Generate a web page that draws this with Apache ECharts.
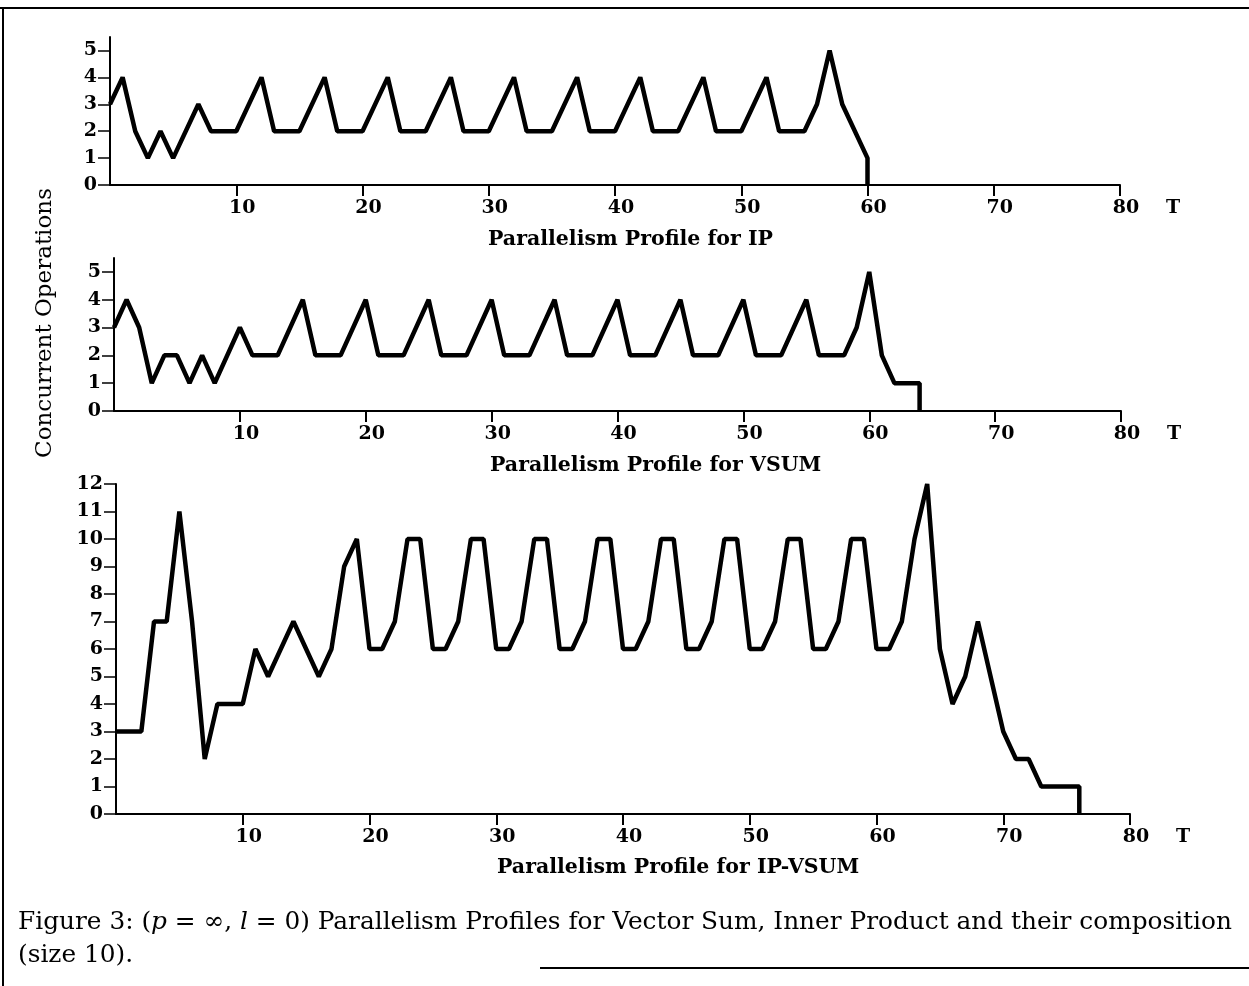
<!DOCTYPE html>
<html>
<head>
<meta charset="utf-8">
<script src="https://cdn.jsdelivr.net/npm/echarts@6/dist/echarts.min.js"></script>
<style>html,body{margin:0;padding:0;background:#fff;}#c{width:1249px;height:986px;}</style>
</head>
<body>
<div id="c"></div>
<script>
// ---- data ----
const ipT    = [0,1,2,3,4,5,7,8,10,12,13,15,17,18,20,22,23,25,27,28,30,32,33,35,37,38,40,42,43,45,47,48,50,52,53,55,56,57,58,60,60];
const ipV    = [3,4,2,1,2,1,3,2,2,4,2,2,4,2,2,4,2,2,4,2,2,4,2,2,4,2,2,4,2,2,4,2,2,4,2,2,3,5,3,1,0];
const vsumT  = [0,1,2,3,4,5,6,7,8,10,11,13,15,16,18,20,21,23,25,26,28,30,31,33,35,36,38,40,41,43,45,46,48,50,51,53,55,56,58,59,60,61,62,64,64];
const vsumV  = [3,4,3,1,2,2,1,2,1,3,2,2,4,2,2,4,2,2,4,2,2,4,2,2,4,2,2,4,2,2,4,2,2,4,2,2,4,2,2,3,5,2,1,1,0];
const bothT  = [0,2,3,4,5,6,7,8,10,11,12,14,16,17,18,19,20,21,22,23,24,25,26,27,28,29,30,31,32,33,34,35,36,37,38,39,40,41,42,43,44,45,46,47,48,49,50,51,52,53,54,55,56,57,58,59,60,61,62,63,64,65,66,67,68,69,70,71,72,73,76,76];
const bothV  = [3,3,7,7,11,7,2,4,4,6,5,7,5,6,9,10,6,6,7,10,10,6,6,7,10,10,6,6,7,10,10,6,6,7,10,10,6,6,7,10,10,6,6,7,10,10,6,6,7,10,10,6,6,7,10,10,6,6,7,10,12,6,4,5,7,5,3,2,2,1,1,0];
const xTicks = [10,20,30,40,50,60,70,80];
const yTicksSmall = [0,1,2,3,4,5];
const yTicksBig = [0,1,2,3,4,5,6,7,8,9,10,11,12];
const titles = ['Parallelism Profile for IP','Parallelism Profile for VSUM','Parallelism Profile for IP-VSUM'];
const yName = 'Concurrent Operations';

const pairs = (t, v) => t.map((x, i) => [x, v[i]]);
const SERIF = '"DejaVu Serif", "Liberation Serif", serif';

const grids = [
  {left:110, top:37,  width:1010, height:148},
  {left:114, top:258, width:1007, height:153},
  {left:116, top:484, width:1014, height:330}
];
const labelMargins = [14, 14, 14];

function xAxis(i){
  return {
    type:'value', gridIndex:i, min:0, max:80, interval:10,
    name:'T', nameLocation:'end', nameGap:46,
    nameTextStyle:{color:'#000', fontFamily:SERIF, fontWeight:'bold', fontSize:19, verticalAlign:'top', padding:[labelMargins[i],0,0,0]},
    axisLine:{show:true, onZero:false, lineStyle:{color:'#000', width:2}},
    axisTick:{show:true, length:11, lineStyle:{color:'#000', width:2}, customValues:xTicks},
    axisLabel:{color:'#000', fontFamily:SERIF, fontWeight:'bold', fontSize:19, margin:labelMargins[i], padding:[0,0,0,12], customValues:xTicks},
    splitLine:{show:false}
  };
}
function yAxis(i, max, ticks){
  return {
    type:'value', gridIndex:i, min:0, max:max, interval:1,
    axisLine:{show:true, onZero:false, lineStyle:{color:'#000', width:2}},
    axisTick:{show:true, length:12, lineStyle:{color:'#000', width:1.5}, customValues:ticks},
    axisLabel:{color:'#000', fontFamily:SERIF, fontWeight:'bold', fontSize:19, margin:13, padding:[0,0,6,0], customValues:ticks},
    splitLine:{show:false}
  };
}
function lineSeries(i, t, v){
  return {
    type:'line', xAxisIndex:i, yAxisIndex:i, data:pairs(t, v), symbol:'none',
    lineStyle:{color:'#000', width:4.5, join:'bevel'}, silent:true, animation:false
  };
}
const titleStyle = {color:'#000', fontFamily:SERIF, fontWeight:'bold', fontSize:20.5};

const chart = echarts.init(document.getElementById('c'), null, {renderer:'canvas'});
chart.setOption({
  animation:false,
  backgroundColor:'#fff',
  grid:grids,
  xAxis:[xAxis(0), xAxis(1), xAxis(2)],
  yAxis:[yAxis(0, 5.5, yTicksSmall), yAxis(1, 5.5, yTicksSmall), yAxis(2, 12, yTicksBig)],
  series:[lineSeries(0, ipT, ipV), lineSeries(1, vsumT, vsumV), lineSeries(2, bothT, bothV)],
  title:[
    {text:titles[0], left:488, top:229, textStyle:titleStyle, padding:0},
    {text:titles[1], left:490, top:455, textStyle:titleStyle, padding:0},
    {text:titles[2], left:497, top:857, textStyle:titleStyle, padding:0},
    {text:'Figure 3: ({i|p} = ∞, {i|l} = 0) Parallelism Profiles for Vector Sum, Inner Product and their composition',
     left:18, top:910, padding:0,
     textStyle:{color:'#000', fontFamily:SERIF, fontWeight:'normal', fontSize:24.8,
       rich:{i:{fontStyle:'italic', fontFamily:SERIF, fontSize:24.8, color:'#000'}}}},
    {text:'(size 10).', left:18, top:943, padding:0,
     textStyle:{color:'#000', fontFamily:SERIF, fontWeight:'normal', fontSize:24.8}}
  ],
  graphic:[
    {type:'text', x:45, y:323, rotation:Math.PI/2,
     style:{text:yName, fill:'#000', font:'23px ' + SERIF, textAlign:'center', textVerticalAlign:'middle'}},
    {type:'line', shape:{x1:0, y1:8, x2:1249, y2:8}, style:{stroke:'#000', lineWidth:2}},
    {type:'line', shape:{x1:3, y1:8, x2:3, y2:986}, style:{stroke:'#000', lineWidth:2}},
    {type:'line', shape:{x1:540, y1:968, x2:1249, y2:968}, style:{stroke:'#000', lineWidth:2}}
  ]
});
</script>
</body>
</html>
